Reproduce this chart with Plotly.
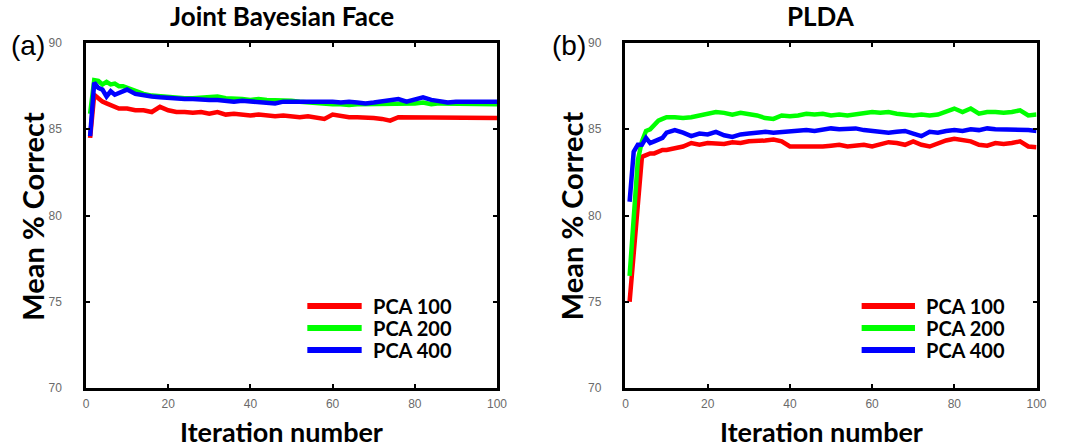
import plotly.graph_objects as go

iters = [1, 2, 3, 4, 5, 6, 7, 8, 9, 10] + list(range(12, 101, 2))

# (a) Joint Bayesian Face
jb_pca100 = [84.5, 87.0, 86.8, 86.6, 86.5, 86.4, 86.3, 86.2, 86.2, 86.2,
             86.1, 86.1, 86.0, 86.3, 86.1, 86.0, 86.0, 85.95, 86.0, 85.9,
             86.0, 85.85, 85.9, 85.85, 85.8, 85.85, 85.8, 85.75, 85.8, 85.75,
             85.7, 85.75, 85.7, 85.6, 85.85, 85.75, 85.7, 85.7, 85.7, 85.65,
             85.6, 85.5, 85.7, 85.7, 85.7, 85.7, 85.7, 85.65, 85.65, 85.7,
             85.65, 85.65, 85.65, 85.65, 85.65]
jb_pca200 = [85.9, 87.85, 87.8, 87.6, 87.75, 87.6, 87.65, 87.5, 87.5, 87.4,
             87.2, 87.05, 86.95, 86.9, 86.85, 86.85, 86.8, 86.8, 86.85, 86.85,
             86.9, 86.8, 86.8, 86.75, 86.7, 86.75, 86.7, 86.7, 86.7, 86.65,
             86.6, 86.55, 86.55, 86.5, 86.45, 86.45, 86.4, 86.45, 86.45, 86.5,
             86.45, 86.5, 86.45, 86.5, 86.5, 86.55, 86.45, 86.5, 86.5, 86.45,
             86.45, 86.45, 86.45, 86.45, 86.45]
jb_pca400 = [84.6, 87.7, 87.4, 87.3, 86.9, 87.2, 87.0, 87.1, 87.2, 87.3,
             87.05, 86.95, 86.9, 86.85, 86.8, 86.8, 86.75, 86.75, 86.7, 86.7,
             86.7, 86.65, 86.6, 86.65, 86.6, 86.55, 86.55, 86.5, 86.6, 86.6,
             86.6, 86.65, 86.6, 86.6, 86.6, 86.55, 86.6, 86.55, 86.5, 86.55,
             86.6, 86.7, 86.75, 86.6, 86.75, 86.85, 86.7, 86.6, 86.55, 86.6,
             86.6, 86.6, 86.6, 86.6, 86.6]

# (b) PLDA
plda_pca100 = [75.0, 77.8, 80.6, 83.4, 83.5, 83.6, 83.6, 83.7, 83.8, 83.8,
               83.9, 84.0, 84.2, 84.1, 84.2, 84.2, 84.15, 84.25, 84.2, 84.3,
               84.3, 84.35, 84.4, 84.3, 84.0, 84.0, 83.95, 84.0, 84.0, 84.05,
               84.1, 84.0, 84.05, 84.1, 84.0, 84.15, 84.25, 84.2, 84.1, 84.3,
               84.1, 84.0, 84.2, 84.35, 84.45, 84.35, 84.3, 84.1, 84.05, 84.2,
               84.15, 84.2, 84.3, 84.0, 83.95]
plda_pca200 = [76.5, 80.0, 83.2, 84.3, 84.9, 85.0, 85.3, 85.5, 85.6, 85.7,
               85.7, 85.65, 85.7, 85.8, 85.9, 86.0, 85.95, 85.85, 85.95, 85.9,
               85.8, 85.65, 85.6, 85.8, 85.75, 85.8, 85.9, 85.85, 85.9, 85.8,
               85.85, 85.8, 85.85, 85.9, 86.0, 85.95, 86.0, 85.9, 85.85, 85.8,
               85.85, 85.8, 85.85, 86.0, 86.2, 86.0, 86.2, 85.9, 86.0, 86.0,
               85.95, 86.0, 86.1, 85.8, 85.85]
plda_pca400 = [80.8, 83.7, 84.1, 84.1, 84.5, 84.2, 84.3, 84.4, 84.5, 84.8,
               84.95, 84.8, 84.6, 84.75, 84.7, 84.85, 84.65, 84.55, 84.7, 84.75,
               84.8, 84.85, 84.8, 84.85, 84.85, 84.9, 84.95, 84.9, 85.0, 85.05,
               85.0, 85.0, 85.05, 84.95, 84.9, 84.85, 84.8, 84.85, 84.9, 84.75,
               84.6, 84.85, 84.8, 84.9, 84.95, 84.9, 85.0, 84.95, 85.05, 85.0,
               85.0, 84.95, 85.0, 84.95, 84.9]

series_names = ["PCA 100", "PCA 200", "PCA 400"]
colors = ["#ff0000", "#00ff00", "#0000ff"]

panel_titles = ["Joint Bayesian Face", "PLDA"]
panel_tags = ["(a)", "(b)"]
x_title = "Iteration number"
y_title = "Mean % Correct"
x_ticks = [0, 20, 40, 60, 80, 100]
y_ticks = [70, 75, 80, 85, 90]

W, H = 1090, 447
MT, MB = 43, 59
PH = H - MT - MB

BOLD = "Lato"
TICKFONT = dict(family="Liberation Sans, Arial", size=12, color="#6a6a6a")

fig = go.Figure()

left_data = [jb_pca100, jb_pca200, jb_pca400]
right_data = [plda_pca100, plda_pca200, plda_pca400]

for i, (name, c) in enumerate(zip(series_names, colors)):
    fig.add_trace(go.Scatter(x=iters, y=left_data[i], mode="lines", name=name,
                             line=dict(color=c, width=4.5), xaxis="x", yaxis="y",
                             showlegend=False))
for i, (name, c) in enumerate(zip(series_names, colors)):
    fig.add_trace(go.Scatter(x=iters, y=right_data[i], mode="lines", name=name,
                             line=dict(color=c, width=4.5), xaxis="x2", yaxis="y2",
                             showlegend=False))

def px_x(p):
    return p / W

def px_y(p):
    return (H - MB - p) / PH

axis_common = dict(showline=True, linecolor="black", linewidth=2.5, mirror="ticks",
                   ticks="inside", ticklen=4, tickwidth=1.5, tickcolor="black",
                   showgrid=False, zeroline=False, tickfont=TICKFONT)

fig.update_layout(
    width=W, height=H,
    margin=dict(l=0, r=0, t=MT, b=MB),
    paper_bgcolor="white", plot_bgcolor="white",
    xaxis=dict(domain=[px_x(84), px_x(500)], range=[0, 100], tickvals=x_ticks,
               anchor="y", ticklabelstandoff=3, **axis_common),
    yaxis=dict(domain=[0, 1], range=[70, 90], tickvals=y_ticks, anchor="x",
               ticklabelstandoff=19, **axis_common),
    xaxis2=dict(domain=[px_x(630), px_x(1046)], range=[0, 100], tickvals=x_ticks,
                anchor="y2", ticklabelstandoff=3, **axis_common),
    yaxis2=dict(domain=[0, 1], range=[70, 90], tickvals=y_ticks, anchor="x2",
                ticklabelstandoff=19, **axis_common),
    showlegend=False,
)

annotations = []
shapes = []
centers = [282, 828]
ylab_x = [30, 576]
tag_x = [25, 573]
leg_line_x = [(308, 363), (869, 923)]
leg_text_x = [372, 932]
leg_rows = [306, 328, 350]
for k in range(2):
    annotations.append(dict(text="<b>%s</b>" % panel_titles[k], x=px_x(centers[k]), y=px_y(16),
                            xref="paper", yref="paper", showarrow=False,
                            xanchor="center", yanchor="middle",
                            font=dict(family=BOLD, size=26, color="black")))
    annotations.append(dict(text="<b>%s</b>" % x_title, x=px_x(centers[k]), y=px_y(431),
                            xref="paper", yref="paper", showarrow=False,
                            xanchor="center", yanchor="middle",
                            font=dict(family=BOLD, size=27, color="black")))
    annotations.append(dict(text="<b>%s</b>" % y_title, x=px_x(ylab_x[k]), y=px_y(216),
                            xref="paper", yref="paper", showarrow=False, textangle=-90,
                            xanchor="center", yanchor="middle",
                            font=dict(family=BOLD, size=29, color="black")))
    annotations.append(dict(text=panel_tags[k], x=px_x(tag_x[k]), y=px_y(45),
                            xref="paper", yref="paper", showarrow=False,
                            xanchor="center", yanchor="middle",
                            font=dict(family="Liberation Sans, Arial", size=28, color="black")))
    # legend drawn per panel
    for j, (name, c) in enumerate(zip(series_names, colors)):
        x0, x1 = leg_line_x[k]
        shapes.append(dict(type="line", xref="paper", yref="paper",
                           x0=px_x(x0), x1=px_x(x1), y0=px_y(leg_rows[j]), y1=px_y(leg_rows[j]),
                           line=dict(color=c, width=6)))
        annotations.append(dict(text="<b>%s</b>" % name, x=px_x(leg_text_x[k]), y=px_y(leg_rows[j]),
                                xref="paper", yref="paper", showarrow=False,
                                xanchor="left", yanchor="middle",
                                font=dict(family=BOLD, size=20, color="black")))
fig.update_layout(annotations=annotations, shapes=shapes)

fig.write_html("out.html")
